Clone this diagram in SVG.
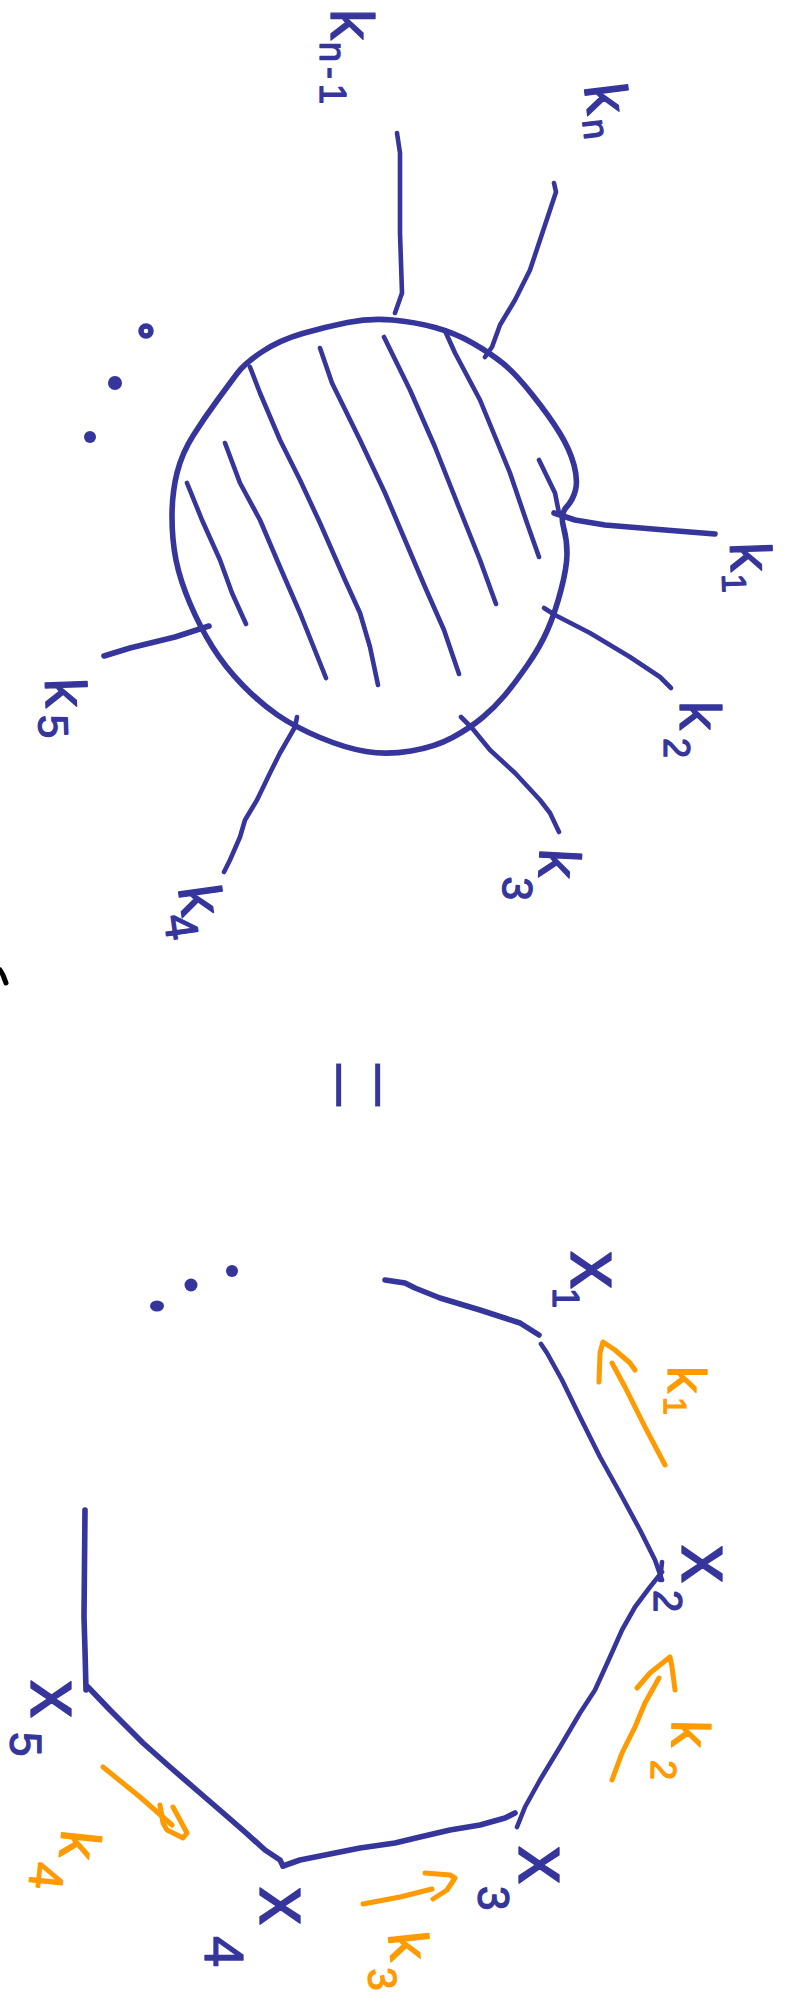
<svg xmlns="http://www.w3.org/2000/svg" width="790" height="2002" viewBox="0 0 790 2002">
<style>
.b{fill:none;stroke:#35359b;stroke-width:4.6;stroke-linecap:round;stroke-linejoin:round}
.bt{fill:none;stroke:#35359b;stroke-width:5.6;stroke-linecap:round;stroke-linejoin:round}
.o{fill:none;stroke:#ff9a00;stroke-width:5;stroke-linecap:round;stroke-linejoin:round}
.tb{fill:#35359b;stroke:#35359b;stroke-width:1.3;stroke-linejoin:round;font-family:"Liberation Sans",Arial,sans-serif}
.to{fill:#ff9a00;stroke:#ff9a00;stroke-width:1.3;stroke-linejoin:round;font-family:"Liberation Sans",Arial,sans-serif}
.dot{fill:#35359b}
</style>
<rect width="790" height="2002" fill="#ffffff"/>

<g id="hub">
<path class="bt" d="M262.5 351.5 Q280 340 302.5 333.5 Q325 327 347.5 322.5 Q370 318 392.5 320 Q415 322 435 327.5 Q455 333 472.5 343 Q490 353 502.5 363 Q515 373 532.5 395 Q550 417 560 433.5 Q570 450 574 465 Q578 480 575.5 490 Q573 500 566.5 507 Q560 514 563.5 527 Q567 540 567 553.5 Q567 567 561 590 Q555 613 547.5 630 Q540 647 527.5 665 Q515 683 505 695 Q495 707 482.5 717.5 Q470 728 452.5 737.5 Q435 747 411 751 Q387 755 366 751.5 Q345 748 320 737.5 Q295 727 277.5 715 Q260 703 242.5 685 Q225 667 212.5 647 Q200 627 190 603.5 Q180 580 176 560 Q172 540 172 516.5 Q172 493 177 473 Q182 453 193.5 435 Q205 417 217.5 400 Q230 383 237.5 373 Q245 363 262.5 351.5"/>
<polyline class="b" points="187,483 202,520 220,560 232,593 246,624"/>
<polyline class="b" points="225,443 240,483 260,520 280,567 300,613 326,678"/>
<polyline class="b" points="250,367 260,393 280,440 300,480 320,523 345,580 360,613 370,647 378,685"/>
<polyline class="b" points="320,348 332,383 360,440 385,493 405,540 425,587 444,630 459,674"/>
<polyline class="b" points="384,337 410,390 435,447 460,510 480,560 496,604"/>
<polyline class="b" points="446,333 455,353 480,400 510,473 527,523 539,557"/>
<polyline class="b" points="539,460 555,493 559,513"/>
</g>

<g id="connectors">
<polyline class="b" points="397,133 400,153 400,233 402,293 395,313"/>
<polyline class="b" points="554,183 556,192 550,210 530,270 515,300 500,325 492,347 485,357"/>
<polyline class="bt" points="554,513 575,520 605,525 665,530 715,534"/>
<polyline class="b" points="544,608 555,615 590,633 630,657 660,677 671,688"/>
<polyline class="b" points="461,717 472,728 490,750 515,773 540,800 550,813 559,832"/>
<polyline class="b" points="297,717 295,727 280,753 270,773 257,800 245,820 240,837 230,860 224,872"/>
<polyline class="bt" points="104,656 130,648 175,637 209,626"/>

<polyline class="bt" points="385,1280 405,1283 415,1288 440,1298 480,1310 520,1323 539,1335"/>
<polyline class="b" points="541,1344 547,1353 562,1380 580,1417 600,1457 620,1493 640,1530 655,1560 662,1580"/>
<polyline class="b" points="662,1562 660,1580"/>
<polyline class="b" points="662,1572 650,1587 635,1607 622,1630 610,1657 595,1690 580,1713 560,1747 540,1780 525,1807 517,1827"/>
<polyline class="bt" points="515,1813 505,1818 480,1825 450,1830 420,1837 395,1843 360,1848 325,1855 300,1860 283,1866"/>
<polyline class="bt" points="283,1866 280,1860 265,1850 245,1832 222,1812 200,1793 170,1767 143,1743 110,1710 88,1687"/>
<polyline class="bt" points="85,1510 84,1617 85,1650 86,1690"/>

<polyline class="o" points="612,1363 625,1387 645,1427 665,1465"/>
<polyline class="o" points="599,1382 600,1353 603,1342 615,1350 630,1363 635,1370"/>
<polyline class="o" points="659,1678 645,1703 635,1727 622,1753 612,1780"/>
<polyline class="o" points="637,1688 650,1673 670,1657 672,1667 675,1690"/>
<polyline class="o" points="363,1904 400,1897 432,1889"/>
<polyline class="o" points="425,1873 450,1875 455,1878 447,1890 433,1899"/>
<polyline class="o" points="103,1767 140,1797 172,1825"/>
<polyline class="o" points="160,1805 163,1823 167,1830 183,1838 187,1833 173,1807"/>
</g>

<g id="ellipsis-top">
<circle cx="146" cy="331" r="5" fill="none" stroke="#35359b" stroke-width="5.5"/>
<circle class="dot" cx="115" cy="383" r="7"/>
<circle class="dot" cx="90" cy="437" r="6"/>
</g>
<g id="ellipsis-bottom">
<ellipse class="dot" cx="157" cy="1306" rx="7" ry="5.5"/>
<circle class="dot" cx="191" cy="1285" r="6.5"/>
<circle class="dot" cx="232" cy="1271" r="6"/>
</g>

<g id="equals">
<text font-family="Liberation Sans, Arial, sans-serif" fill="#35359b" font-size="60" stroke="#ffffff" stroke-width="2.4" transform="translate(306.5,1057) rotate(90) scale(1.6,2.6)">=</text>
</g>

<g id="mark">
<polyline points="0,970 3,975 6,983" fill="none" stroke="#000" stroke-width="5" stroke-linecap="round"/>
</g>

<g id="label-kn-1"><text class="tb" font-size="62" transform="translate(331,9) rotate(90)">k<tspan x="33" y="11" font-size="36" letter-spacing="5">n-1</tspan></text></g>
<g id="label-kn"><text class="tb" font-size="60" transform="translate(584,86) rotate(83)">k<tspan x="34" y="6" font-size="36">n</tspan></text></g>
<g id="label-k1"><text class="tb" font-size="58" transform="translate(730,543) rotate(88)">k<tspan x="31" y="9" font-size="34">1</tspan></text></g>
<g id="label-k2"><text class="tb" font-size="58" transform="translate(680,701) rotate(90)">k<tspan x="37" y="16" font-size="36">2</tspan></text></g>
<g id="label-k3"><text class="tb" font-size="58" transform="translate(540,848) rotate(93)">k<tspan x="30" y="35" font-size="42">3</tspan></text></g>
<g id="label-k4"><text class="tb" font-size="60" transform="translate(178,888) rotate(82)">k<tspan x="26" y="18" font-size="46">4</tspan></text></g>
<g id="label-k5"><text class="tb" font-size="58" transform="translate(45,679) rotate(88)">k<tspan x="36" y="8" font-size="42">5</tspan></text></g>

<g id="node-x1"><text class="tb" font-size="76" transform="translate(571,1251) rotate(90)">x<tspan x="37" y="18" font-size="36">1</tspan></text></g>
<g id="node-x2"><text class="tb" font-size="76" transform="translate(682,1545) rotate(90)">x<tspan x="45" y="28" font-size="40">2</tspan></text></g>
<g id="node-x3"><text class="tb" font-size="76" transform="translate(519,1846) rotate(90)">x<tspan x="40" y="41" font-size="44">3</tspan></text></g>
<g id="node-x4"><text class="tb" font-size="76" transform="translate(260,1887) rotate(90)">x<tspan x="49" y="55" font-size="56">4</tspan></text></g>
<g id="node-x5"><text class="tb" font-size="76" transform="translate(31,1680) rotate(90)">x<tspan x="52" y="21" font-size="44">5</tspan></text></g>

<g id="label-o-k1"><text class="to" font-size="54" transform="translate(668,1366) rotate(90)">k<tspan x="31" y="4" font-size="32">1</tspan></text></g>
<g id="label-o-k2"><text class="to" font-size="54" transform="translate(672,1720) rotate(91)">k<tspan x="40" y="20" font-size="36">2</tspan></text></g>
<g id="label-o-k3"><text class="to" font-size="56" transform="translate(388,1934) rotate(84)">k<tspan x="33" y="24" font-size="40">3</tspan></text></g>
<g id="label-o-k4"><text class="to" font-size="56" transform="translate(62,1829) rotate(96)">k<tspan x="35" y="27" font-size="48">4</tspan></text></g>
</svg>
